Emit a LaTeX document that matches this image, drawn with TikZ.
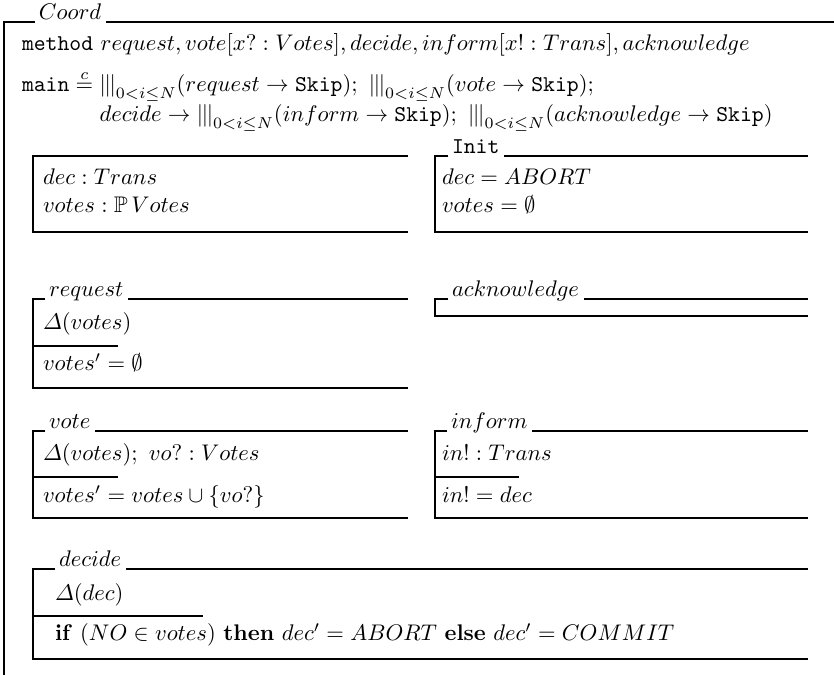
\documentclass[tikz,border=0pt]{standalone}
\usepackage{amsmath,amssymb}
\usetikzlibrary{calc}
\newcommand{\intl}{\mathop{|\mkern-1mu|\mkern-1mu|}\nolimits_{0<i\leq N}}
\newcommand{\hdtext}[1]{\raisebox{1pt}{#1}}
\begin{document}
\begin{tikzpicture}[x=0.4425pt,y=-0.4425pt,
  rule/.style={line width=1.15pt},
  txt/.style={anchor=base west, inner sep=0pt, outer sep=0pt},
  hd/.style={anchor=base west, inner sep=0pt, outer sep=0pt}]
\useasboundingbox (0,0) rectangle (834,675);

% class Coord
\node[hd] (coord) at (39,22) {\hdtext{$Coord$}};
\draw[rule] (4,675) -- (4,22) -- ([xshift=-1.6pt]coord.base west);
\draw[rule] ([xshift=2.2pt]coord.base east) -- (834,22);

\node[txt] (meth) at (22,51) {\texttt{method} $request, vote[x? : Votes], decide, inform[x! : Trans], acknowledge$};

\node[txt] (main) at (22,92) {$\begin{array}[t]{@{}l@{\;}l@{}}
 \mathtt{main} \stackrel{c}{=} & \intl(request\rightarrow\mathtt{Skip});\ \intl(vote\rightarrow\mathtt{Skip});\\[1pt]
 & decide\rightarrow\intl(inform\rightarrow\mathtt{Skip});\ \intl(acknowledge\rightarrow\mathtt{Skip})
 \end{array}$};

% state schema
\draw[rule] (408,156) -- (33,156) -- (33,232) -- (408,232);
\node[txt] (s1) at (43,185) {$dec : Trans$};
\node[txt] (s2) at (43,213) {$votes : \mathbb{P}\,Votes$};

% Init
\node[hd] (init) at (452,156) {\hdtext{\texttt{Init}}};
\draw[rule] ([xshift=-1.6pt]init.base west) -- (435,156) -- (435,232) -- (808,232);
\draw[rule] ([xshift=2.2pt]init.base east) -- (808,156);
\node[txt] (i1) at (442,185) {$dec = ABORT$};
\node[txt] (i2) at (442,213) {$votes = \emptyset$};

% request
\node[hd] (req) at (49,299) {\hdtext{$request$}};
\draw[rule] ([xshift=-1.6pt]req.base west) -- (33,299) -- (33,388) -- (408,388);
\draw[rule] ([xshift=2.2pt]req.base east) -- (408,299);
\draw[rule] (33,346) -- (118,346);
\node[txt] (r1) at (43,330) {$\varDelta(votes)$};
\node[txt] (r2) at (43,371) {$votes' = \emptyset$};

% acknowledge
\node[hd] (ack) at (452,299) {\hdtext{$acknowledge$}};
\draw[rule] ([xshift=-1.6pt]ack.base west) -- (435,299) -- (435,316) -- (808,316);
\draw[rule] ([xshift=2.2pt]ack.base east) -- (808,299);

% vote
\node[hd] (vote) at (49,431) {\hdtext{$vote$}};
\draw[rule] ([xshift=-1.6pt]vote.base west) -- (33,431) -- (33,518) -- (408,518);
\draw[rule] ([xshift=2.2pt]vote.base east) -- (408,431);
\draw[rule] (33,477) -- (118,477);
\node[txt] (v1) at (43,461) {$\varDelta(votes);\ vo? : Votes$};
\node[txt] (v2) at (43,503) {$votes' = votes \cup \{vo?\}$};

% inform
\node[hd] (inf) at (451,431) {\hdtext{$inform$}};
\draw[rule] ([xshift=-1.6pt]inf.base west) -- (435,431) -- (435,518) -- (808,518);
\draw[rule] ([xshift=2.2pt]inf.base east) -- (808,431);
\draw[rule] (435,477) -- (519,477);
\node[txt] (f1) at (442,461) {$in! : Trans$};
\node[txt] (f2) at (442,503) {$in! = dec$};

% decide
\node[hd] (dec) at (59,569) {\hdtext{$decide$}};
\draw[rule] ([xshift=-1.6pt]dec.base west) -- (33,569) -- (33,659) -- (808,659);
\draw[rule] ([xshift=2.2pt]dec.base east) -- (808,569);
\draw[rule] (33,616) -- (203,616);
\node[txt] (d1) at (55,601) {$\varDelta(dec)$};
\node[txt] (d2) at (55,641) {$\mathbf{if}\ (NO \in votes)\ \mathbf{then}\ dec' = ABORT\ \mathbf{else}\ dec' = COMMIT$};
\end{tikzpicture}
\end{document}
